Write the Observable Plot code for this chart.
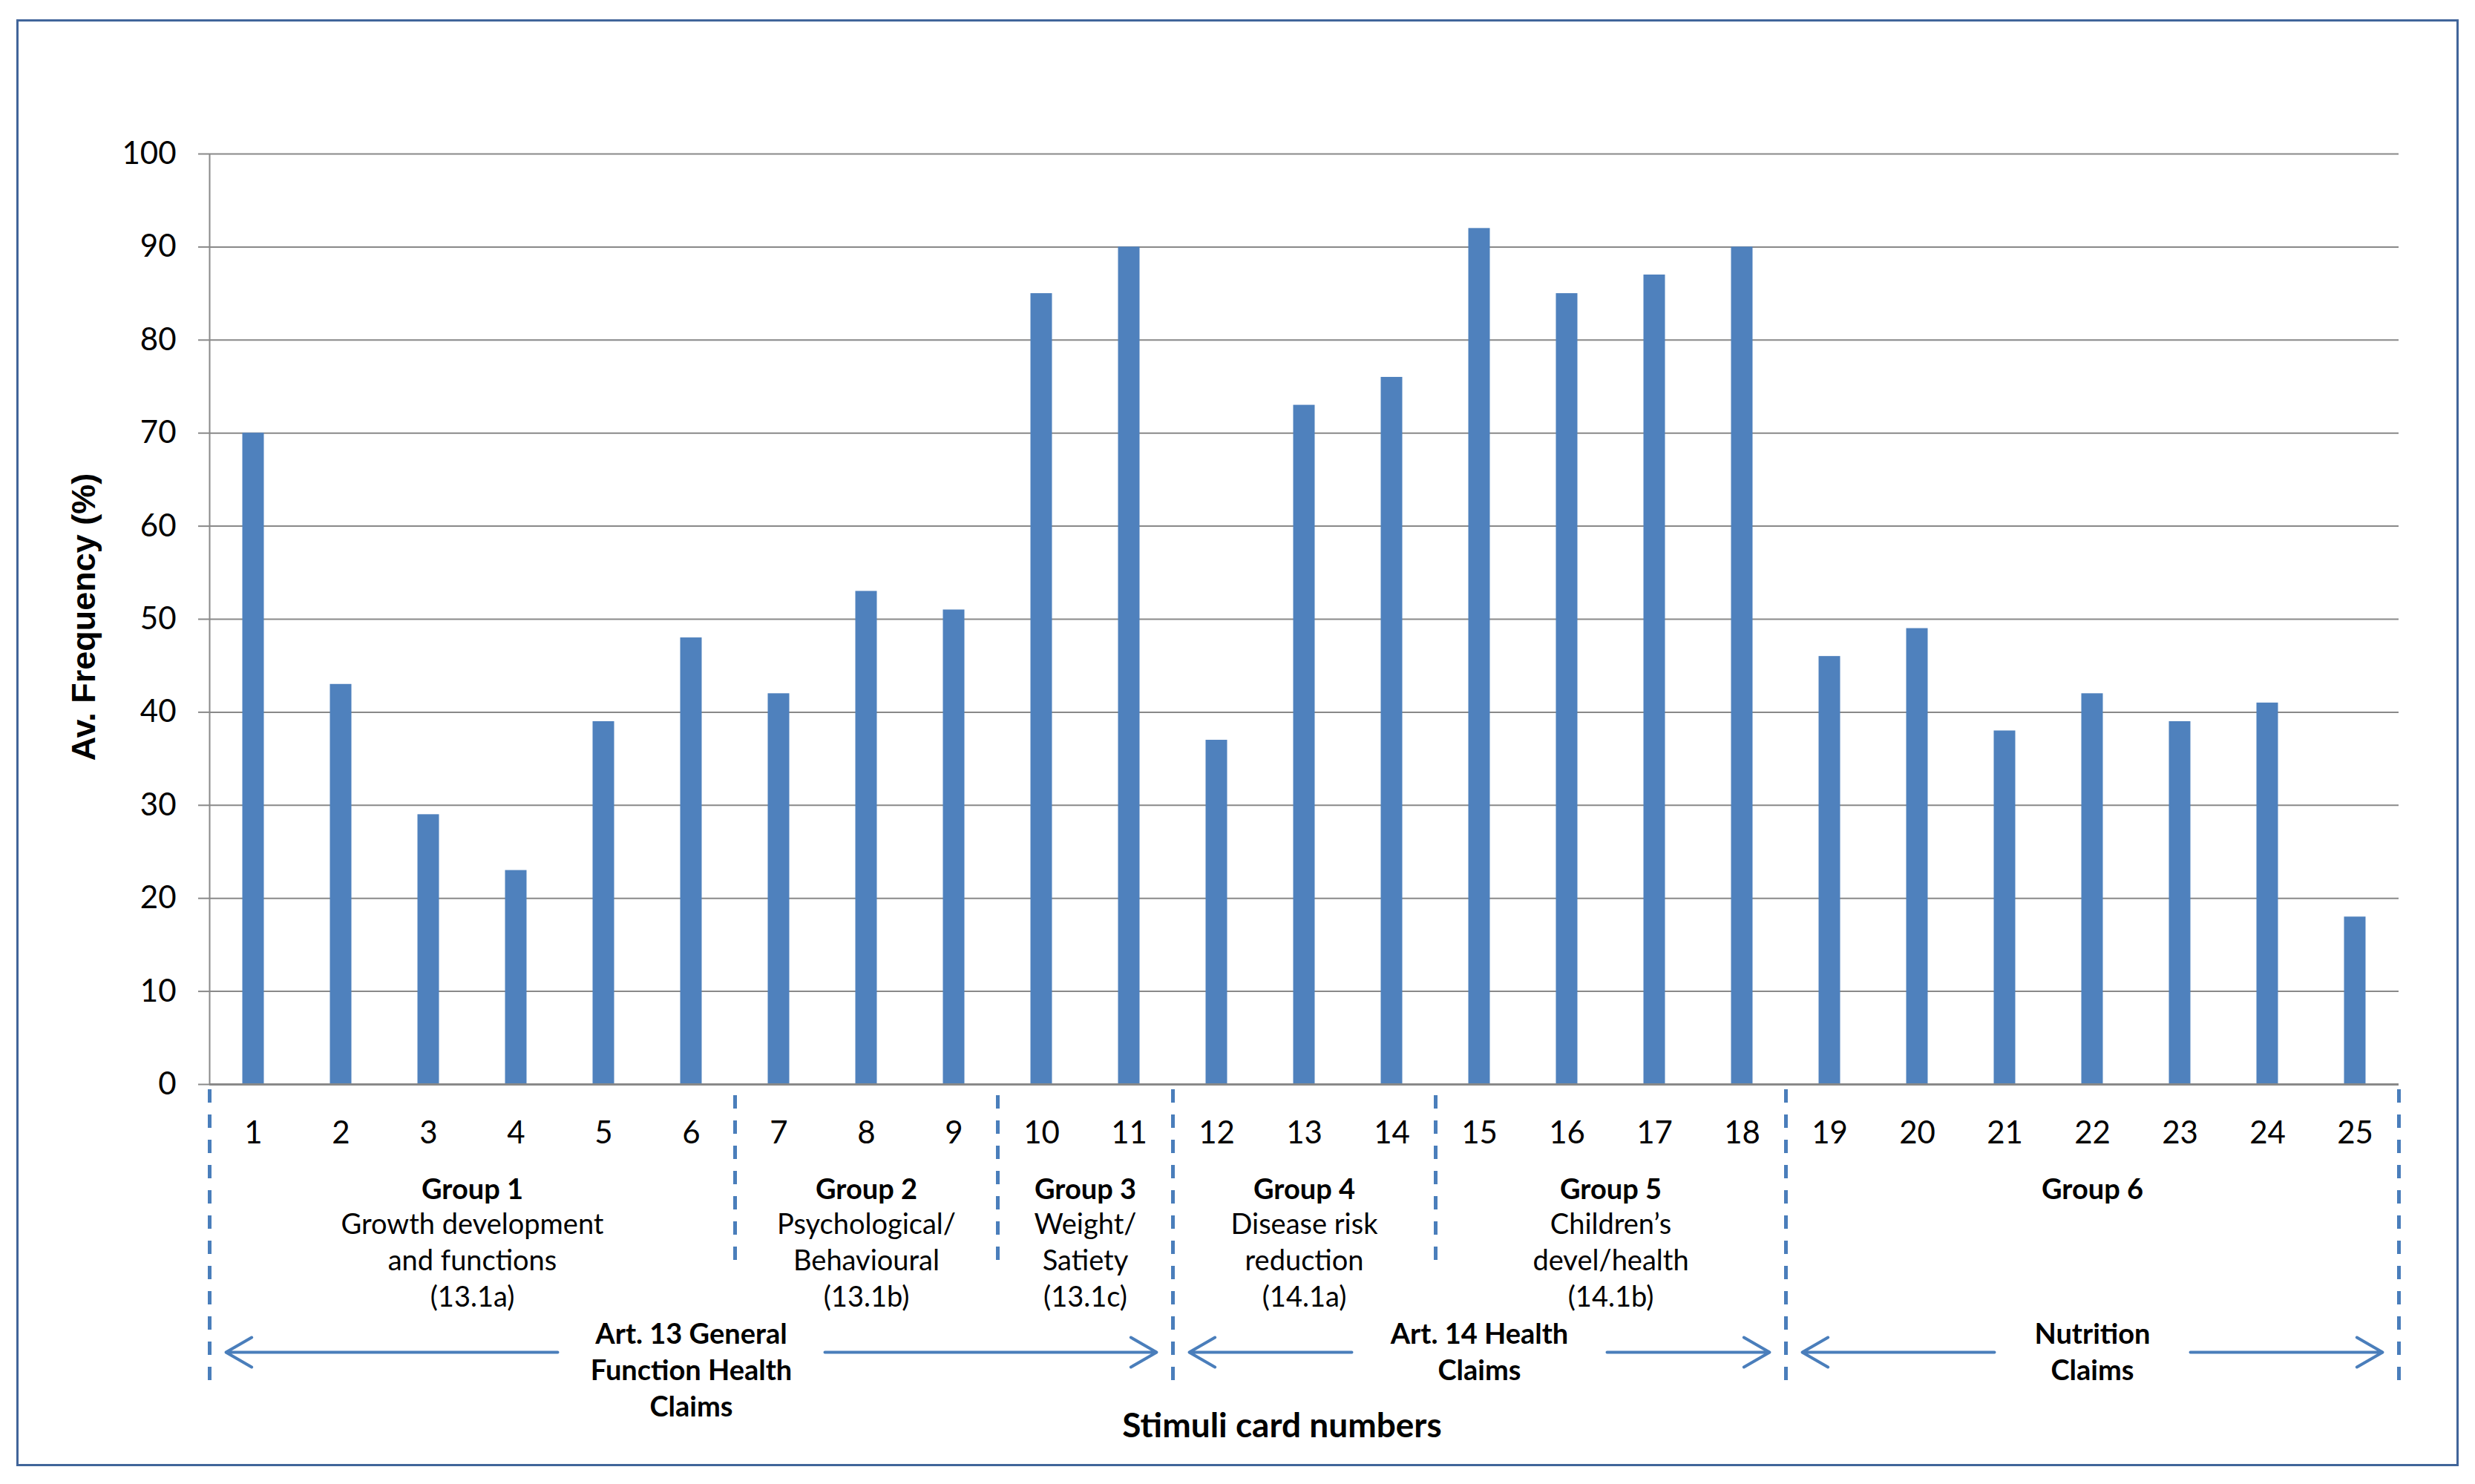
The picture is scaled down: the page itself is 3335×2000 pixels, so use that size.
<!DOCTYPE html>
<html><head><meta charset="utf-8">
<script src="https://cdn.jsdelivr.net/npm/d3@7"></script>
<script src="https://cdn.jsdelivr.net/npm/@observablehq/plot@0.6"></script>
<style>
html,body{margin:0;padding:0;background:#fff;}
#wrap{position:relative;width:3335px;height:2000px;background:#fff;overflow:hidden;}
#border{position:absolute;left:22px;top:26px;width:3291px;height:1950px;box-sizing:border-box;border:3px solid #41659a;pointer-events:none;}
</style></head>
<body><div id="wrap"><div id="chart"></div><div id="border"></div></div>
<script>
// ---- data ----
const cards = [1,2,3,4,5,6,7,8,9,10,11,12,13,14,15,16,17,18,19,20,21,22,23,24,25];
const frequency = [70,43,29,23,39,48,42,53,51,85,90,37,73,76,92,85,87,90,46,49,38,42,39,41,18];
const yTicks = [0,10,20,30,40,50,60,70,80,90,100];

const groupTitles = ["Group 1","Group 2","Group 3","Group 4","Group 5","Group 6"];
const groupDescriptions = [
  "Growth development\nand functions\n(13.1a)",
  "Psychological/\nBehavioural\n(13.1b)",
  "Weight/\nSatiety\n(13.1c)",
  "Disease risk\nreduction\n(14.1a)",
  "Children\u2019s\ndevel/health\n(14.1b)",
  ""
];
const groupFirstCard = [1,7,10,12,15,19];
const groupLastCard  = [6,9,11,14,18,25];

const articleLabels = ["Art. 13 General\nFunction Health\nClaims","Art. 14 Health\nClaims","Nutrition\nClaims"];
const articleFirstCard = [1,12,19];
const articleLastCard  = [11,18,25];

const xTitle = "Stimuli card numbers";
const yTitle = "Av. Frequency (%)";

// ---- derived tables ----
const bars = cards.map((c,i)=>({card:c, value:frequency[i]}));
const groups = groupTitles.map((t,i)=>({title:t, desc:groupDescriptions[i], first:groupFirstCard[i], last:groupLastCard[i]}));
const articles = articleLabels.map((l,i)=>({label:l, first:articleFirstCard[i], last:articleLastCard[i]}));
const xDomain = [d3.min(cards)-0.5, d3.max(cards)+0.5];
const majorSeps = [...articleFirstCard.map(c=>c-0.5), d3.max(articleLastCard)+0.5];
const minorSeps = groupFirstCard.filter(c=>!articleFirstCard.includes(c)).map(c=>c-0.5);
const mid = d => (d.first + d.last)/2;

const blue = "#4f81bd";
const lineBlue = "#4a7ebb";
const grey = "#898989";

const arrowMarks = articles.flatMap(a => {
  const gap = 8 * d3.max(a.label.split("\n"), s => s.length) + 60;
  return [a.first - 0.5, a.last + 0.5].map(end => Plot.arrow([a], {
    x1: mid, x2: () => end, y1: () => 0, y2: () => 0, dy: 361,
    insetStart: gap, insetEnd: 22, stroke: lineBlue, strokeWidth: 4,
    headLength: 15, headAngle: 60
  }));
});

const chart = Plot.plot({
  width: 3335, height: 2000,
  marginLeft: 282, marginRight: 103, marginTop: 207, marginBottom: 539,
  style: {fontFamily: "Lato, sans-serif", fontSize: "42px", color: "#000", background: "transparent"},
  x: {domain: xDomain},
  y: {domain: [0, 100]},
  marks: [
    Plot.gridY({ticks: yTicks, stroke: grey, strokeOpacity: 1, strokeWidth: 2}),
    Plot.axisY({ticks: yTicks, tickSize: 15, tickPadding: 30, stroke: grey, strokeWidth: 2, fontSize: 42, label: null, tickFormat: d => d}),
    Plot.rectY(bars, {x1: d => d.card - 0.5, x2: d => d.card + 0.5, y: "value", fill: blue, insetLeft: 44.5, insetRight: 44.5}),
    Plot.ruleX([xDomain[0]], {stroke: grey, strokeWidth: 2}),
    Plot.ruleY([0], {stroke: grey, strokeWidth: 3}),
    Plot.axisX({ticks: cards, tickSize: 0, tickPadding: 50, fontSize: 42, label: null, tickFormat: d => d}),
    Plot.ruleX(majorSeps, {stroke: lineBlue, strokeWidth: 5, strokeDasharray: "18,16", dy: 1261, insetBottom: 850}),
    Plot.ruleX(minorSeps, {stroke: lineBlue, strokeWidth: 5, strokeDasharray: "18,16", dy: 1269, insetBottom: 1028}),
    Plot.text(groups, {x: mid, text: "title", frameAnchor: "bottom", lineAnchor: "top", dy: 128, fontWeight: "bold", fontSize: 38}),
    Plot.text(groups, {x: mid, text: "desc", frameAnchor: "bottom", lineAnchor: "top", dy: 167, fontSize: 38, lineHeight: 1.29}),
    Plot.text(articles, {x: mid, text: "label", frameAnchor: "bottom", lineAnchor: "top", dy: 315, fontWeight: "bold", fontSize: 38, lineHeight: 1.29}),
    ...arrowMarks,
    Plot.text([xTitle], {text: d => d, frameAnchor: "bottom", dy: 475, dx: -30, fontWeight: "bold", fontSize: 46}),
    Plot.text([yTitle], {text: d => d, frameAnchor: "left", textAnchor: "middle", rotate: -90, dx: -169, dy: -3, fontFamily: "Liberation Sans, Arial, sans-serif", fontWeight: "bold", fontSize: 45})
  ]
});
document.getElementById("chart").appendChild(chart);
</script>
</body></html>
